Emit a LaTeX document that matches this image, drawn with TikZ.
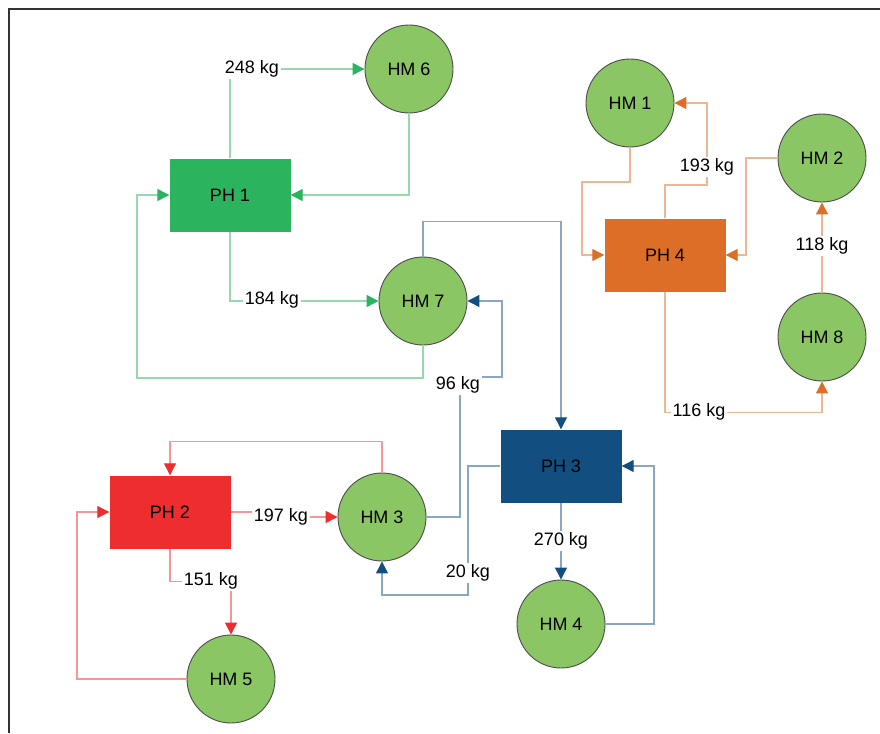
\documentclass[tikz,border=0pt]{standalone}
\usepackage{fontspec}
\setmainfont{Liberation Sans}
\usetikzlibrary{arrows.meta,calc}
\definecolor{hmfill}{HTML}{8BC665}
\definecolor{phgreen}{HTML}{2BB35E}
\definecolor{phred}{HTML}{EE2D2F}
\definecolor{phblue}{HTML}{134E80}
\definecolor{phorange}{HTML}{DD6E27}
\definecolor{frame}{HTML}{333333}

\begin{document}
\begin{tikzpicture}[
  x=1pt,y=-1pt,
  font=\fontsize{18}{20}\selectfont,
  holding/.style={
    circle,
    draw=black!70,
    fill=hmfill,
    line width=.9pt,
    minimum size=88pt,
    inner sep=0pt
  },
  plant/.style={
    rectangle,
    fill=#1,
    minimum width=121pt,
    minimum height=73pt,
    inner sep=0pt
  },
  flow/.style={
    #1!50,
    line width=1.2pt,
    -{Triangle[length=12pt,width=12pt,color=#1]}
  },
  qty/.style={
    fill=white,
    inner sep=2pt
  }
]

\useasboundingbox (0,0) rectangle (880,733);
\draw[frame,line width=2.5pt] (9,733) -- (9,9) -- (880,9);

\node[plant=phgreen]  (ph1) at (230,195) {PH 1};
\node[plant=phred]    (ph2) at (170,512) {PH 2};
\node[plant=phblue]   (ph3) at (561,466) {PH 3};
\node[plant=phorange] (ph4) at (665,255) {PH 4};

\node[holding] (hm1) at (630,103) {HM 1};
\node[holding] (hm2) at (822,158) {HM 2};
\node[holding] (hm3) at (382,517) {HM 3};
\node[holding] (hm4) at (561,624) {HM 4};
\node[holding] (hm5) at (231,679) {HM 5};
\node[holding] (hm6) at (409,69)  {HM 6};
\node[holding] (hm7) at (423,301) {HM 7};
\node[holding] (hm8) at (822,337) {HM 8};

\coordinate (g1) at (137,378);
\coordinate (b1) at (460,377);
\coordinate (b2) at (502,377);
\coordinate (b3) at (468,595);
\coordinate (b4) at (654,545);
\coordinate (r1) at (275,514);
\coordinate (r2) at (77,600);
\coordinate (o1) at (582,182);
\coordinate (o2) at (707,185);
\coordinate (o3) at (746,200);

% PH 1
\draw[flow=phgreen] (ph1.north) |- (hm6.west);
\draw[flow=phgreen] (hm6.south) |- (ph1.east);
\draw[flow=phgreen] (ph1.south) |- (hm7.west);
\draw[flow=phgreen] (hm7.south) |- (g1) |- (ph1.west);

% PH 3
\draw[flow=phblue] (hm7.north) -- ++(0,-35) -| (ph3.north);
\draw[flow=phblue] (hm3.east) -| (b1) -- (b2) |- (hm7.east);
\draw[flow=phblue] (ph3.west) -| (b3) -| (hm3.south);
\draw[flow=phblue] (ph3.south) -- (hm4.north);
\draw[flow=phblue] (hm4.east) -| (b4) |- (ph3.east);

% PH 2
\draw[flow=phred] (ph2.east) -| (r1) |- (hm3.west);
\draw[flow=phred] (hm3.north) -- ++(0,-31) -| (ph2.north);
\draw[flow=phred] (ph2.south) -- ++(0,33) -| (hm5.north);
\draw[flow=phred] (hm5.west) -| (r2) |- (ph2.west);

% PH 4
\draw[flow=phorange] (hm1.south) |- (o1) |- (ph4.west);
\draw[flow=phorange] (ph4.north) |- (o2) |- (hm1.east);
\draw[flow=phorange] (hm2.west) -| (o3) |- (ph4.east);
\draw[flow=phorange] (hm8.north) -- (hm2.south);
\draw[flow=phorange] (ph4.south) -- ++(0,121) -| (hm8.south);

\node[qty] (q248) at (252,69)  {248 kg};
\node[qty] (q184) at (272,300) {184 kg};
\node[qty] (q96)  at (458,385) {96 kg};
\node[qty] (q20)  at (468,573) {20 kg};
\node[qty] (q270) at (561,541) {270 kg};
\node[qty] (q197) at (281,517) {197 kg};
\node[qty] (q151) at (211,581) {151 kg};
\node[qty] (q193) at (707,167) {193 kg};
\node[qty] (q118) at (822,246) {118 kg};
\node[qty] (q116) at (699,412) {116 kg};

\end{tikzpicture}
\end{document}
